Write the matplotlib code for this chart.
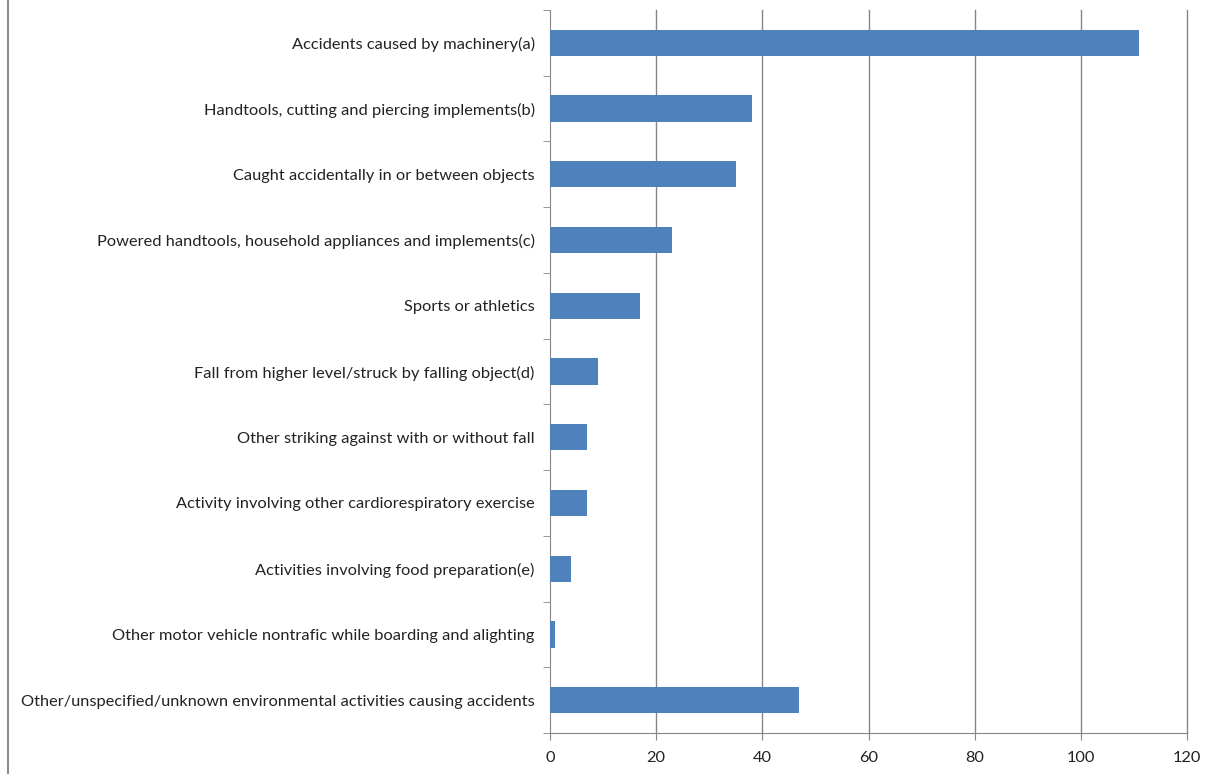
import numpy as np
import matplotlib.pyplot as plt
from matplotlib.lines import Line2D

# Categories from top to bottom, as in the reference
categories = [
    "Accidents caused by machinery(a)",
    "Handtools, cutting and piercing implements(b)",
    "Caught accidentally in or between objects",
    "Powered handtools, household appliances and implements(c)",
    "Sports or athletics",
    "Fall from higher level/struck by falling object(d)",
    "Other striking against with or without fall",
    "Activity involving other cardiorespiratory exercise",
    "Activities involving food preparation(e)",
    "Other motor vehicle nontrafic while boarding and alighting",
    "Other/unspecified/unknown environmental activities causing accidents",
]
values = [111, 38, 35, 23, 17, 9, 7, 7, 4, 1, 47]
x_ticks = [0, 20, 40, 60, 80, 100, 120]

plt.rcParams['font.family'] = ['Lato', 'DejaVu Sans']

fig = plt.figure(figsize=(12.17, 7.74), dpi=100)
ax = fig.add_axes([550 / 1217, 1 - 733 / 774, (1187 - 550) / 1217, (733 - 10) / 774])

n = len(categories)
ypos = np.arange(n)
ax.barh(ypos, values, height=0.4, color='#4F81BD', zorder=3)

ax.set_ylim(n - 0.5, -0.5)
ax.set_xlim(0, 120)
ax.set_xticks(x_ticks)
ax.set_xticklabels([str(t) for t in x_ticks], fontsize=11.8, color='#222222')

ax.set_yticks(ypos)
ax.set_yticklabels(categories, fontsize=11.8, color='#222222')
ax.set_yticks(np.arange(-0.5, n, 1), minor=True)
ax.tick_params(axis='y', which='major', length=0, pad=11)
ax.tick_params(axis='y', which='minor', length=5, color='#868686', direction='out')
ax.tick_params(axis='x', which='major', length=5, color='#868686', direction='out', pad=8)

for x in x_ticks[1:]:
    ax.axvline(x, color='#868686', linewidth=1, zorder=1, clip_on=False)

for side in ['top', 'right']:
    ax.spines[side].set_visible(False)
ax.spines['left'].set_color('#868686')
ax.spines['bottom'].set_color('#868686')

# Partial chart-area border on the left
fig.add_artist(Line2D([8 / 1217, 8 / 1217], [0, 1], color='#8c8c8c', linewidth=1.5,
                      transform=fig.transFigure))

fig.savefig('out.png', dpi=100)
plt.close(fig)
